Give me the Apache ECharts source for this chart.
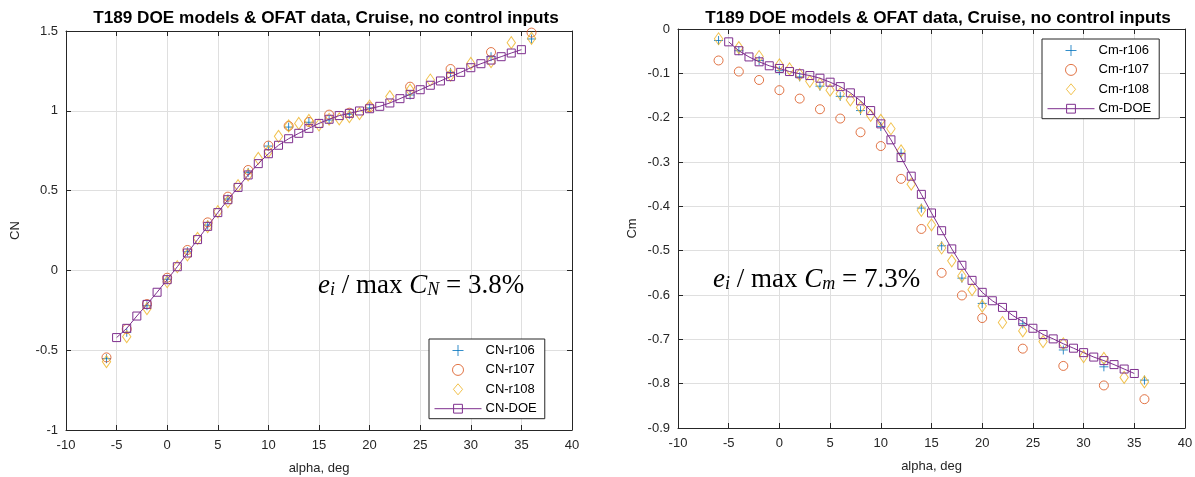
<!DOCTYPE html>
<html><head><meta charset="utf-8">
<script src="https://cdn.jsdelivr.net/npm/echarts@6/dist/echarts.min.js"></script>
<style>html,body{margin:0;padding:0;background:#fff}#c{width:1195px;height:477px}</style>
</head><body><div id="c"></div>
<script>
// ---- data ----
const alphaOFAT = [-6,-4,-2,0,2,4,6,8,10,12,14,16,18,20,24,28,32,36];
const alphaR108 = [-6,-4,-2,0,1,2,3,4,5,6,7,8,9,10,11,12,13,14,15,16,17,18,19,20,22,24,26,28,30,32,34,36];
const alphaDOE = [-5,-4,-3,-2,-1,0,1,2,3,4,5,6,7,8,9,10,11,12,13,14,15,16,17,18,19,20,21,22,23,24,25,26,27,28,29,30,31,32,33,34,35];

const cnR106 = [-0.553,-0.388,-0.221,-0.056,0.117,0.284,0.447,0.614,0.779,0.898,0.928,0.942,0.978,1.018,1.099,1.241,1.339,1.450];
const cnR107 = [-0.545,-0.367,-0.211,-0.046,0.128,0.301,0.462,0.629,0.782,0.905,0.930,0.976,0.988,1.022,1.151,1.262,1.368,1.490];
const cnR108 = [-0.572,-0.415,-0.240,-0.071,0.023,0.097,0.201,0.274,0.368,0.431,0.531,0.598,0.702,0.744,0.840,0.905,0.921,0.940,0.911,0.947,0.949,0.963,0.982,1.030,1.089,1.130,1.193,1.224,1.297,1.308,1.427,1.454];
const cnDOE = [-0.421,-0.363,-0.286,-0.213,-0.137,-0.058,0.023,0.109,0.193,0.276,0.362,0.443,0.520,0.598,0.669,0.731,0.784,0.825,0.859,0.890,0.921,0.947,0.970,0.984,0.999,1.013,1.028,1.049,1.076,1.103,1.132,1.160,1.187,1.214,1.241,1.270,1.295,1.318,1.339,1.362,1.383];

const cmR106 = [-0.026,-0.049,-0.071,-0.094,-0.108,-0.129,-0.152,-0.184,-0.220,-0.280,-0.404,-0.489,-0.562,-0.619,-0.665,-0.724,-0.762,-0.792];
const cmR107 = [-0.071,-0.096,-0.115,-0.138,-0.157,-0.181,-0.202,-0.233,-0.264,-0.338,-0.451,-0.550,-0.601,-0.652,-0.721,-0.760,-0.804,-0.835];
const cmR108 = [-0.022,-0.042,-0.062,-0.081,-0.090,-0.103,-0.118,-0.124,-0.138,-0.146,-0.160,-0.177,-0.195,-0.206,-0.225,-0.275,-0.350,-0.409,-0.442,-0.494,-0.523,-0.557,-0.588,-0.625,-0.662,-0.681,-0.705,-0.710,-0.739,-0.743,-0.786,-0.796];
const cmDOE = [-0.029,-0.049,-0.063,-0.074,-0.083,-0.089,-0.096,-0.101,-0.105,-0.111,-0.120,-0.130,-0.144,-0.162,-0.184,-0.214,-0.250,-0.290,-0.332,-0.373,-0.415,-0.455,-0.496,-0.533,-0.567,-0.594,-0.613,-0.628,-0.646,-0.660,-0.675,-0.689,-0.699,-0.710,-0.720,-0.730,-0.740,-0.748,-0.757,-0.767,-0.777];

const titleText = 'T189 DOE models & OFAT data, Cruise, no control inputs';
const xName = 'alpha, deg';

// ---- styling ----
const SANS = "'Liberation Sans', Arial, Helvetica, sans-serif";
const SERIF = "'Liberation Serif', 'Times New Roman', serif";
const AX = '#262626';
const GRIDC = '#dfdfdf';
const C1 = '#0072BD', C2 = '#D95319', C3 = '#EDB120', C4 = '#7E2F8E';
const PLUS = 'path://M0,5L10,5M5,0L5,10';
const DIAMOND = 'path://M5,0L10,6L5,12L0,6Z';
const zip = (xs, ys) => xs.map((x, i) => [x, ys[i]]);

function xAxes(g, name) {
  return [
    { gridIndex: g, type: 'value', min: -10, max: 40, interval: 5, position: 'bottom',
      axisLine: { show: true, onZero: false, lineStyle: { color: AX, width: 1 } },
      axisTick: { show: true, inside: true, length: 5, lineStyle: { color: AX } },
      axisLabel: { color: AX, fontSize: 13, fontFamily: SANS, margin: 9 },
      splitLine: { show: true, lineStyle: { color: GRIDC, width: 1 } },
      name: name, nameLocation: 'middle', nameGap: 32,
      nameTextStyle: { color: AX, fontSize: 13, fontFamily: SANS } },
    { gridIndex: g, type: 'value', min: -10, max: 40, interval: 5, position: 'top',
      axisLine: { show: true, onZero: false, lineStyle: { color: AX, width: 1 } },
      axisTick: { show: true, inside: true, length: 5, lineStyle: { color: AX } },
      axisLabel: { show: false }, splitLine: { show: false } }
  ];
}
function yAxes(g, min, max, interval, name, gap) {
  return [
    { gridIndex: g, type: 'value', min: min, max: max, interval: interval, position: 'left',
      axisLine: { show: true, onZero: false, lineStyle: { color: AX, width: 1 } },
      axisTick: { show: true, inside: true, length: 5, lineStyle: { color: AX } },
      axisLabel: { color: AX, fontSize: 13, fontFamily: SANS, margin: 8 },
      splitLine: { show: true, lineStyle: { color: GRIDC, width: 1 } },
      name: name, nameLocation: 'middle', nameGap: gap,
      nameTextStyle: { color: AX, fontSize: 13, fontFamily: SANS } },
    { gridIndex: g, type: 'value', min: min, max: max, interval: interval, position: 'right',
      axisLine: { show: true, onZero: false, lineStyle: { color: AX, width: 1 } },
      axisTick: { show: true, inside: true, length: 5, lineStyle: { color: AX } },
      axisLabel: { show: false }, splitLine: { show: false } }
  ];
}
function scatterSeries(name, g, data, symbol, size, color) {
  return { type: 'scatter', name: name, xAxisIndex: g * 2, yAxisIndex: g * 2, data: data,
    symbol: symbol, symbolSize: size, symbolKeepAspect: true,
    itemStyle: { color: 'rgba(0,0,0,0)', borderColor: color, borderWidth: 1 },
    emphasis: { disabled: true }, silent: true };
}
function doeSeries(name, g, data) {
  return { type: 'line', name: name, xAxisIndex: g * 2, yAxisIndex: g * 2, data: data,
    symbol: 'rect', symbolSize: 8, showSymbol: true, showAllSymbol: true,
    lineStyle: { color: C4, width: 1 },
    itemStyle: { color: 'rgba(0,0,0,0)', borderColor: C4, borderWidth: 1 },
    emphasis: { disabled: true }, silent: true, animation: false };
}
function legendOf(names, left, top) {
  return { data: names, left: left, top: top, orient: 'vertical',
    itemWidth: 47, itemHeight: 11, itemGap: 6.4,
    textStyle: { color: '#000', fontSize: 13, fontFamily: SANS, padding: [0, 0, 0, -1] },
    borderColor: AX, borderWidth: 1, backgroundColor: '#fff',
    padding: [5, 8, 3.5, 5], selectedMode: false,
    itemStyle: { borderWidth: 1 }, lineStyle: { width: 1 } };
}
function annot(x, y, sub) {
  return { type: 'text', left: x, top: y, z: 100,
    style: { text: '{it|e}{sb|i}{n| / max }{it|C}{sb|' + sub.s + '}{n| = ' + sub.v + '}',
      rich: {
        it: { fontFamily: SERIF, fontStyle: 'italic', fontSize: 27, lineHeight: 34, verticalAlign: 'bottom', fill: '#000' },
        n:  { fontFamily: SERIF, fontSize: 27, lineHeight: 34, verticalAlign: 'bottom', fill: '#000' },
        sb: { fontFamily: SERIF, fontStyle: 'italic', fontSize: 18, lineHeight: 16, verticalAlign: 'bottom', fill: '#000' }
      } } };
}

const option = {
  animation: false,
  backgroundColor: '#fff',
  title: [
    { text: titleText, left: 321, top: 5, textAlign: 'center',
      textStyle: { fontFamily: SANS, fontSize: 17.2, fontWeight: 'bold', color: '#000' } },
    { text: titleText, left: 933, top: 5, textAlign: 'center',
      textStyle: { fontFamily: SANS, fontSize: 17.2, fontWeight: 'bold', color: '#000' } }
  ],
  grid: [
    { left: 66, top: 31, width: 506, height: 399, containLabel: false, outerBoundsMode: 'none' },
    { left: 678, top: 29, width: 507, height: 399, containLabel: false, outerBoundsMode: 'none' }
  ],
  xAxis: [].concat(xAxes(0, xName), xAxes(1, xName)),
  yAxis: [].concat(yAxes(0, -1, 1.5, 0.5, 'CN', 44), yAxes(1, -0.9, 0, 0.1, 'Cm', 39)),
  legend: [
    legendOf(['CN-r106', 'CN-r107', { name: 'CN-r108', icon: DIAMOND }, 'CN-DOE'], 429, 339),
    legendOf(['Cm-r106', 'Cm-r107', { name: 'Cm-r108', icon: DIAMOND }, 'Cm-DOE'], 1042, 39)
  ],
  series: [
    scatterSeries('CN-r106', 0, zip(alphaOFAT, cnR106), PLUS, 9, C1),
    scatterSeries('CN-r107', 0, zip(alphaOFAT, cnR107), 'circle', 9, C2),
    scatterSeries('CN-r108', 0, zip(alphaR108, cnR108), DIAMOND, [10, 12], C3),
    doeSeries('CN-DOE', 0, zip(alphaDOE, cnDOE)),
    scatterSeries('Cm-r106', 1, zip(alphaOFAT, cmR106), PLUS, 9, C1),
    scatterSeries('Cm-r107', 1, zip(alphaOFAT, cmR107), 'circle', 9, C2),
    scatterSeries('Cm-r108', 1, zip(alphaR108, cmR108), DIAMOND, [10, 12], C3),
    doeSeries('Cm-DOE', 1, zip(alphaDOE, cmDOE))
  ],
  graphic: [
    annot(318, 272, { s: 'N', v: '3.8%' }),
    annot(713, 266, { s: 'm', v: '7.3%' })
  ]
};
const chart = echarts.init(document.getElementById('c'), null, { renderer: 'canvas' });
chart.setOption(option);
</script>
</body></html>
